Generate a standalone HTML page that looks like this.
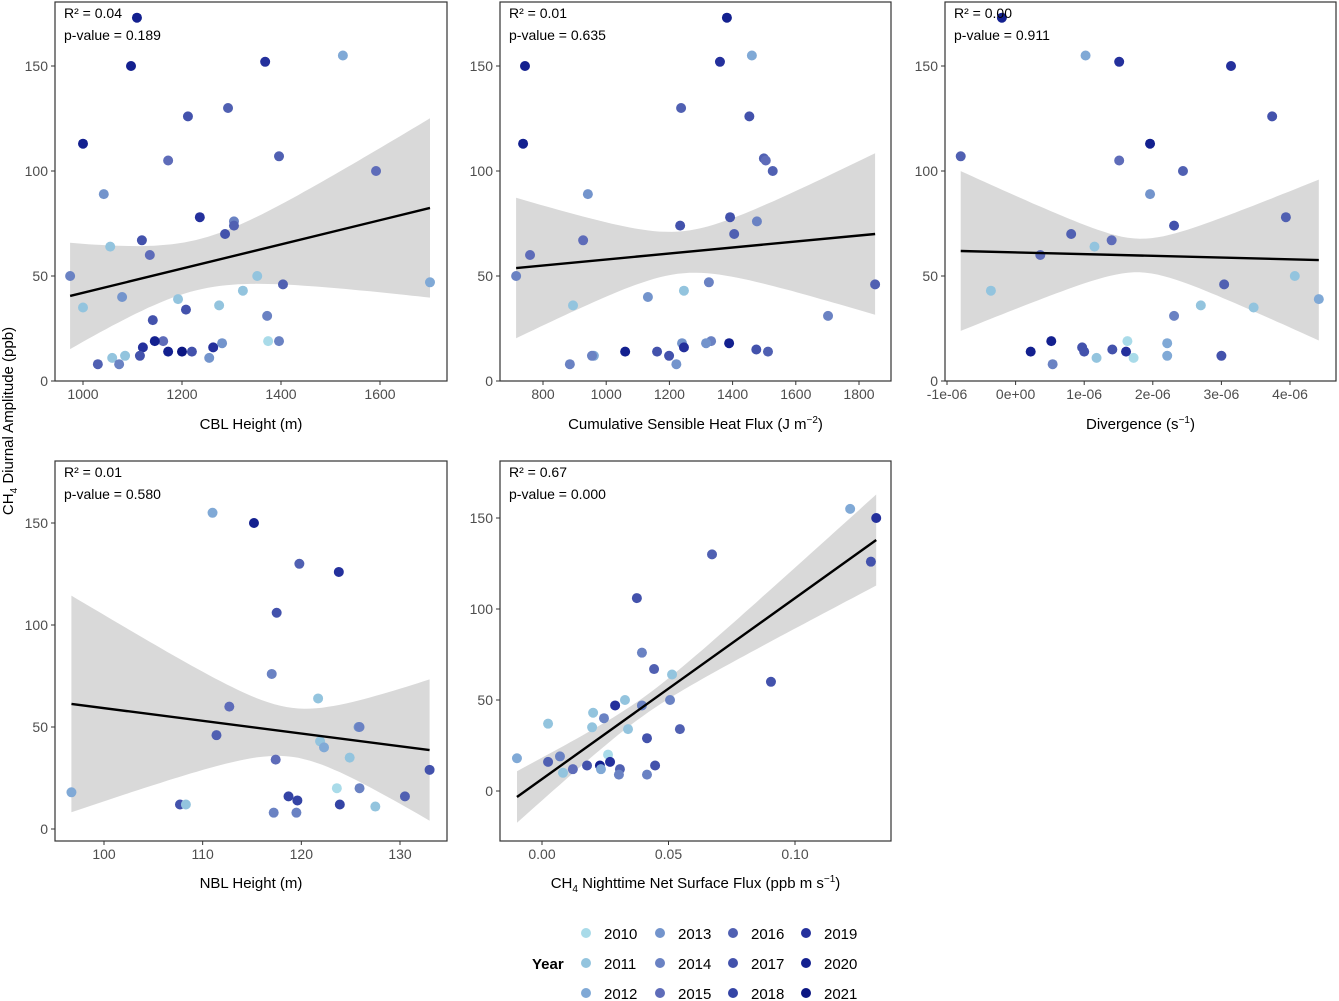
<!DOCTYPE html>
<html><head><meta charset="utf-8"><style>
body{margin:0;background:#fff;}
svg{display:block;font-family:"Liberation Sans",Arial,sans-serif;}
</style></head><body>
<svg id="chart" width="1339" height="1001" viewBox="0 0 1339 1001" xmlns="http://www.w3.org/2000/svg"></svg>
<script>
const years=[2010,2011,2012,2013,2014,2015,2016,2017,2018,2019,2020,2021];
const yearColors=["#a9dbe9","#93c4de","#80a9d6","#7394cc","#6a82c3","#5e6cb9","#5060b2","#4352ac","#3444a5","#24309c","#13208f","#0b1682"];

const p1X=[1109,1097,1000,1368,1525,1293,1212,1042,1172,1396,1592,1236,1305,1305,1287,1055,1119,1135,974,1352,1404,1701,1323,1079,1192,1275,1000,1208,1372,1141,1162,1374,1396,1281,1145,1121,1263,1172,1200,1220,1085,1059,1115,1255,1030,1073];
const p1Y=[173,150,113,152,155,130,126,89,105,107,100,78,76,74,70,64,67,60,50,50,46,47,43,40,39,36,35,34,31,29,19,19,19,18,19,16,16,14,14,14,12,11,12,11,8,8];
const p1Yr=[2020,2020,2020,2019,2012,2016,2017,2013,2015,2016,2015,2019,2014,2016,2017,2011,2017,2015,2014,2011,2016,2012,2011,2013,2011,2011,2011,2017,2014,2017,2015,2010,2014,2013,2020,2019,2019,2020,2021,2017,2011,2011,2017,2013,2016,2014];

const p2X=[1382,743,1360,1461,1237,1453,737,942,1499,1505,1527,1392,1477,1405,1234,927,759,715,1246,1325,1851,895,1132,1702,1240,1332,1316,1389,1246,1475,1512,1060,1161,1199,961,955,885,1222];
const p2Y=[173,150,152,155,130,126,113,89,106,105,100,78,76,70,74,67,60,50,43,47,46,36,40,31,18,19,18,18,16,15,14,14,14,12,12,12,8,8];
const p2Yr=[2020,2020,2019,2012,2016,2017,2020,2013,2016,2015,2016,2017,2014,2016,2017,2015,2015,2014,2011,2014,2016,2011,2013,2014,2013,2014,2013,2020,2019,2017,2016,2020,2017,2017,2012,2014,2014,2013];

const p3X=[-0.2,1.51,1.02,3.14,3.74,1.96,-0.8,1.51,2.44,1.96,3.94,2.31,0.81,1.40,1.15,0.36,4.07,-0.36,3.04,4.42,2.70,3.47,2.31,1.63,2.21,0.52,0.97,1.0,1.41,1.61,0.22,1.18,1.72,2.21,3.0,0.54];
const p3Y=[173,152,155,150,126,113,107,105,100,89,78,74,70,67,64,60,50,43,46,39,36,35,31,19,18,19,16,14,15,14,14,11,11,12,12,8];
const p3Yr=[2020,2019,2012,2019,2017,2020,2016,2015,2016,2013,2016,2017,2016,2015,2011,2015,2011,2011,2016,2012,2011,2011,2014,2010,2012,2020,2017,2017,2017,2019,2020,2011,2010,2012,2017,2014];

const p4X=[111.0,115.2,119.8,123.8,117.5,117.0,121.7,112.7,125.8,125.9,111.4,121.9,122.3,124.9,117.4,133.0,96.7,123.6,125.9,118.7,130.5,119.6,123.9,107.7,108.3,127.5,117.2,119.5];
const p4Y=[155,150,130,126,106,76,64,60,50,50,46,43,40,35,34,29,18,20,20,16,16,14,12,12,12,11,8,8];
const p4Yr=[2012,2020,2016,2019,2017,2014,2011,2015,2013,2014,2016,2011,2012,2011,2015,2017,2012,2010,2014,2018,2016,2018,2018,2017,2011,2011,2014,2014];

const p5X=[0.1218,0.1321,0.130,0.0672,0.0375,0.0395,0.0443,0.0514,0.0905,0.0328,0.0506,0.0289,0.0395,0.0202,0.0415,0.0024,0.0245,0.0340,0.0545,0.0198,-0.0099,0.0261,0.0071,0.0024,0.0269,0.0447,0.0178,0.0229,0.0122,0.0083,0.0308,0.0233,0.0304,0.0415];
const p5Y=[155,150,126,130,106,76,67,64,60,50,50,47,47,43,29,37,40,34,34,35,18,20,19,16,16,14,14,14,12,10,12,12,9,9];
const p5Yr=[2012,2019,2017,2016,2017,2014,2016,2011,2017,2011,2014,2019,2014,2011,2017,2011,2014,2011,2016,2011,2012,2010,2014,2016,2019,2017,2017,2020,2015,2011,2016,2012,2014,2014];

// fit: [y at xmin, y at xmax], band: [xc, h0, k]
const fit1=[40.5,82.4], band1=[1230,12,0.087];
const fit2=[53.8,70.0], band2=[1240,10,0.0608];
const fit3=[61.9,57.6], band3=[1.8,8,14.3];
const fit4=[61.3,38.7], band4=[119,12,2.32];
const fit5=[-3.3,137.9], band5=[0.04,5,266];
const stats=[["0.04","0.189"],["0.01","0.635"],["0.00","0.911"],["0.01","0.580"],["0.67","0.000"]];

const xTicks1=[1000,1200,1400,1600], xLab1=["1000","1200","1400","1600"];
const xTicks2=[800,1000,1200,1400,1600,1800], xLab2=["800","1000","1200","1400","1600","1800"];
const xTicks3=[-1,0,1,2,3,4], xLab3=["-1e-06","0e+00","1e-06","2e-06","3e-06","4e-06"];
const xTicks4=[100,110,120,130], xLab4=["100","110","120","130"];
const xTicks5=[0,0.05,0.10], xLab5=["0.00","0.05","0.10"];
const yTicks=[0,50,100,150], yLab=["0","50","100","150"];

const NS="http://www.w3.org/2000/svg";
const svg=document.getElementById('chart');
function mk(tag,attrs,parent){const e=document.createElementNS(NS,tag);for(const k in attrs)e.setAttribute(k,attrs[k]);(parent||svg).appendChild(e);return e;}

const panels=[
 {box:[55,2,447,381],xd:[1000,1600],xr:[83,380],yr:[381,66],X:p1X,Y:p1Y,Yr:p1Yr,fit:fit1,band:band1,xt:xTicks1,xl:xLab1,title:'CBL Height (m)',ty:429},
 {box:[500,2,891,381],xd:[800,1800],xr:[543,859],yr:[381,66],X:p2X,Y:p2Y,Yr:p2Yr,fit:fit2,band:band2,xt:xTicks2,xl:xLab2,title:'Cumulative Sensible Heat Flux (J m<tspan dy="-6" font-size="10">−2</tspan><tspan dy="6">)</tspan>',ty:429},
 {box:[945,2,1336,381],xd:[-1,4],xr:[947,1290],yr:[381,66],X:p3X,Y:p3Y,Yr:p3Yr,fit:fit3,band:band3,xt:xTicks3,xl:xLab3,title:'Divergence (s<tspan dy="-6" font-size="10">−1</tspan><tspan dy="6">)</tspan>',ty:429},
 {box:[55,461,447,841],xd:[100,130],xr:[104,400],yr:[829,523],X:p4X,Y:p4Y,Yr:p4Yr,fit:fit4,band:band4,xt:xTicks4,xl:xLab4,title:'NBL Height (m)',ty:888},
 {box:[500,461,891,841],xd:[0,0.10],xr:[542,795],yr:[791,518],X:p5X,Y:p5Y,Yr:p5Yr,fit:fit5,band:band5,xt:xTicks5,xl:xLab5,title:'CH<tspan dy="4" font-size="10">4</tspan><tspan dy="-4"> Nighttime Net Surface Flux (ppb m s</tspan><tspan dy="-6" font-size="10">−1</tspan><tspan dy="6">)</tspan>',ty:888}
];

panels.forEach((p,i)=>{
  const g=mk('g',{});
  
  
  const sx=v=>p.xr[0]+(v-p.xd[0])*(p.xr[1]-p.xr[0])/(p.xd[1]-p.xd[0]);
  const sy=v=>p.yr[0]+v*(p.yr[1]-p.yr[0])/150;
  const xmin=Math.min(...p.X), xmax=Math.max(...p.X);
  const lineY=x=>p.fit[0]+(x-xmin)*(p.fit[1]-p.fit[0])/(xmax-xmin);
  const hw=x=>Math.sqrt(p.band[1]*p.band[1]+p.band[2]*p.band[2]*(x-p.band[0])*(x-p.band[0]));
  let up=[],lo=[];
  for(let j=0;j<=60;j++){const x=xmin+(xmax-xmin)*j/60;up.push(sx(x).toFixed(1)+','+sy(lineY(x)+hw(x)).toFixed(1));lo.unshift(sx(x).toFixed(1)+','+sy(lineY(x)-hw(x)).toFixed(1));}
  const cp=mk('clipPath',{id:'clip'+i},g);
  mk('rect',{x:p.box[0],y:p.box[1],width:p.box[2]-p.box[0],height:p.box[3]-p.box[1]},cp);
  const band=mk('polygon',{points:up.concat(lo).join(' '),fill:'#d9d9d9','clip-path':'url(#clip'+i+')'},g);
  
  
  p.X.forEach((x,j)=>{
    const c=mk('circle',{cx:sx(x),cy:sy(p.Y[j]),r:5,fill:yearColors[years.indexOf(p.Yr[j])]},g);
    
    
  });
  const ln=mk('line',{x1:sx(xmin),y1:sy(lineY(xmin)),x2:sx(xmax),y2:sy(lineY(xmax)),stroke:'#000','stroke-width':2.4},g);
  
  
  const fr=mk('rect',{x:p.box[0],y:p.box[1],width:p.box[2]-p.box[0],height:p.box[3]-p.box[1],fill:'none',stroke:'#333','stroke-width':1.2},g);
  
  
  yTicks.forEach((v,j)=>{
    mk('line',{x1:p.box[0]-4,x2:p.box[0],y1:sy(v),y2:sy(v),stroke:'#333'},g);
    const t=mk('text',{x:p.box[0]-7,y:sy(v)+5,'text-anchor':'end','font-size':14,fill:'#4d4d4d'},g);
    t.textContent=yLab[j];
    
    
  });
  p.xt.forEach((v,j)=>{
    mk('line',{x1:sx(v),x2:sx(v),y1:p.box[3],y2:p.box[3]+4,stroke:'#333'},g);
    const t=mk('text',{x:sx(v),y:p.box[3]+18,'text-anchor':'middle','font-size':14,fill:'#4d4d4d'},g);
    t.textContent=p.xl[j];
    
    
  });
  const tt=mk('text',{x:(p.box[0]+p.box[2])/2,y:p.ty,'text-anchor':'middle','font-size':15,fill:'#000'},g);
  tt.innerHTML=p.title;
  
  
  const r2=mk('text',{x:p.box[0]+9,y:p.box[1]+16,'font-size':14,fill:'#000'},g);
  r2.textContent='R² = '+stats[i][0];
  
  
  const pv=mk('text',{x:p.box[0]+9,y:p.box[1]+38,'font-size':14,fill:'#000'},g);
  pv.textContent='p-value = '+stats[i][1];
  
  
});

const yt=mk('text',{x:0,y:0,transform:'translate(13,421) rotate(-90)','text-anchor':'middle','font-size':15,fill:'#000'});
yt.innerHTML='CH<tspan dy="4" font-size="10">4</tspan><tspan dy="-4"> Diurnal Amplitude (ppb)</tspan>';



const lg=mk('g',{});


const lt=mk('text',{x:532,y:969,'font-size':15,'font-weight':'bold',fill:'#000'},lg);
lt.textContent='Year';


const colX=[586,660,733,806];
years.forEach((y,i)=>{
  const cx=colX[Math.floor(i/3)], cy=933+(i%3)*30;
  const c=mk('circle',{cx:cx,cy:cy,r:5,fill:yearColors[i]},lg);
  
  
  const t=mk('text',{x:cx+18,y:cy+6,'font-size':15,fill:'#000'},lg);
  t.textContent=y;
  
  
});
</script>
</body></html>
